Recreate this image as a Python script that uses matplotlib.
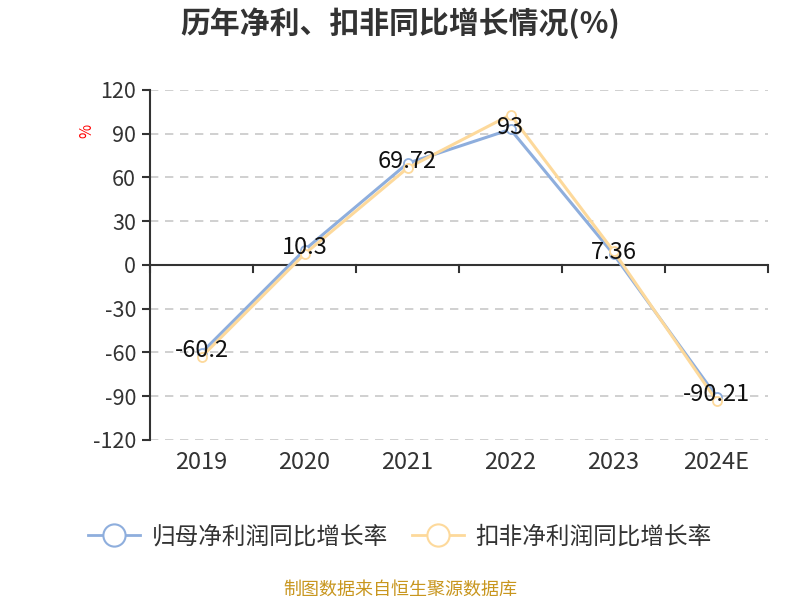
import matplotlib
matplotlib.use("Agg")
import matplotlib.pyplot as plt
from matplotlib.lines import Line2D

plt.rcParams['font.family'] = ['Noto Sans CJK SC', 'DejaVu Sans']

categories = ["2019", "2020", "2021", "2022", "2023", "2024E"]
net_profit = [-60.2, 10.3, 69.72, 93, 7.36, -90.21]
deducted = [-63, 7.5, 66.5, 103, 9.5, -93]
series_names = ["归母净利润同比增长率", "扣非净利润同比增长率"]
yticks = [-120, -90, -60, -30, 0, 30, 60, 90, 120]

c_blue = "#8eaedd"
c_orange = "#fdd99b"

fig = plt.figure(figsize=(8, 6), dpi=100)
ax = fig.add_axes([0.1875, 0.2667, 0.7725, 0.5833])
x = list(range(len(categories)))

ax.set_xlim(-0.5, len(categories) - 0.5)
ax.set_ylim(-120, 120)

for yv in yticks:
    if yv != 0:
        ax.axhline(yv, color="#c8c8c8", lw=1.2, ls=(0, (5, 4)), zorder=1)

ax.plot(x, net_profit, color=c_blue, lw=2.2, marker="o", ms=6.5,
        mfc="white", mec=c_blue, mew=1.3, zorder=3)
ax.plot(x, deducted, color=c_orange, lw=2.2, marker="o", ms=6.5,
        mfc="white", mec=c_orange, mew=1.3, zorder=4)

for xi, v in zip(x, net_profit):
    ax.annotate(f"{v:g}", (xi, v), xytext=(0, 1.5), textcoords="offset points",
                ha="center", va="center", fontsize=17, color="#111111", zorder=5)

# zero axis line with boundary ticks
ax.axhline(0, color="#333333", lw=1.5, zorder=2)
for b in [i - 0.5 for i in range(len(categories) + 1)]:
    ax.plot([b, b], [0, -4.5], color="#333333", lw=1.5, zorder=2, clip_on=False)

for s in ["top", "right", "bottom"]:
    ax.spines[s].set_visible(False)
ax.spines["left"].set_color("#333333")
ax.spines["left"].set_linewidth(1.5)

ax.set_yticks(yticks)
ax.set_yticklabels([str(t) for t in yticks])
ax.tick_params(axis="y", length=6, width=1.5, color="#333333", labelsize=15.5,
               labelcolor="#333333", pad=4)
ax.set_xticks(x)
ax.set_xticklabels(categories)
ax.tick_params(axis="x", length=0, labelsize=17, labelcolor="#333333", pad=8)

fig.text(0.108, 0.782, "%", color="red", fontsize=11, rotation=90,
         ha="center", va="center")

fig.text(0.5, 0.962, "历年净利、扣非同比增长情况(%)", ha="center", va="center",
         fontsize=21.5, fontweight="bold", color="#333333")

handles = [Line2D([0], [0], color=c_blue, lw=2, marker="o", ms=16, mfc="white",
                  mec=c_blue, mew=1.5),
           Line2D([0], [0], color=c_orange, lw=2, marker="o", ms=16, mfc="white",
                  mec=c_orange, mew=1.5)]
fig.legend(handles, series_names, loc="center", bbox_to_anchor=(0.5, 0.105),
           ncol=2, frameon=False, fontsize=17, handlelength=2.2,
           columnspacing=1.0, handletextpad=0.5, labelcolor="#333333")

fig.text(0.5, 0.017, "制图数据来自恒生聚源数据库", ha="center", va="center",
         fontsize=13, color="#c8961e")

fig.savefig("out.png", dpi=100)
